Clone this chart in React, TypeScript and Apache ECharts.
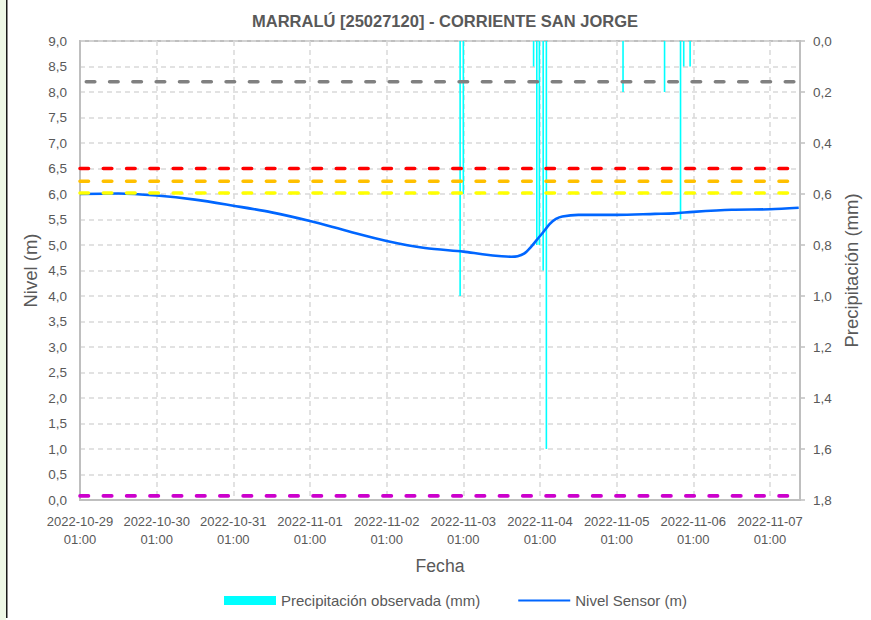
import React, { useEffect, useRef } from 'react';
import * as echarts from 'echarts';

const FONT = '"Liberation Sans", Arial, sans-serif';
const TEXT = '#595959';

// x ticks (one per day, at 01:00), x values are hours since 2022-10-29 01:00
const xTickDates = ['2022-10-29', '2022-10-30', '2022-10-31', '2022-11-01', '2022-11-02', '2022-11-03', '2022-11-04', '2022-11-05', '2022-11-06', '2022-11-07'];
const xTickTime = '01:00';
const xMaxHours = 225.4;

// Nivel Sensor (m)
const levelHours = [0, 12, 24, 36, 48, 60, 72, 84, 96, 108, 120, 126, 132, 135, 137, 139, 141, 143, 145, 147, 149, 151, 156, 168, 180, 186, 192, 204, 216, 225];
const levelValues = [6.0, 6.01, 5.97, 5.89, 5.77, 5.64, 5.47, 5.27, 5.08, 4.94, 4.87, 4.82, 4.78, 4.77, 4.78, 4.83, 4.95, 5.1, 5.25, 5.41, 5.51, 5.56, 5.59, 5.59, 5.61, 5.62, 5.65, 5.69, 5.7, 5.73];

// Precipitación observada (mm)
const precipHours = [119, 120, 142, 143, 143.8, 145, 146, 170, 183, 188, 189, 191];
const precipValues = [1.0, 0.6, 0.1, 0.8, 0.8, 0.9, 1.6, 0.2, 0.2, 0.7, 0.1, 0.1];

// threshold levels (m)
const thresholdValues = [8.2, 6.5, 6.25, 6.02, 0.08];
const thresholdColors = ['#808080', '#FF0000', '#FFC000', '#FFFF00', '#CC00CC'];

const comma = (v: number) => v.toFixed(1).replace('.', ',');

export default function App() {
  const ref = useRef<HTMLDivElement>(null);
  useEffect(() => {
    const chart = echarts.init(ref.current!, null, { renderer: 'svg' });
    const gridDash = { color: '#D9D9D9', width: 1.5, type: [5, 4] as any };
    const thresholdSeries = thresholdValues.map((v, i) => ({
      type: 'line',
      name: 'umbral' + i,
      xAxisIndex: 0,
      yAxisIndex: 0,
      data: [[0, v], [xMaxHours, v]],
      symbol: 'none',
      silent: true,
      z: 5,
      lineStyle: { color: thresholdColors[i], width: 3.6, type: [8.5, 14.8], cap: 'round', dashOffset: i === 0 ? 17 : 0 },
    }));
    chart.setOption({
      animation: false,
      backgroundColor: '#FFFFFF',
      textStyle: { fontFamily: FONT },
      title: {
        text: 'MARRALÚ [25027120] - CORRIENTE SAN JORGE',
        left: 440,
        textAlign: 'center',
        top: 7,
        textStyle: { fontFamily: FONT, fontSize: 16.5, fontWeight: 'bold', color: TEXT },
      },
      grid: { left: 80, right: 71, top: 41, bottom: 120, show: true, borderColor: '#BFBFBF', borderWidth: 2, containLabel: false, outerBoundsMode: 'none' },
      legend: {
        left: 219,
        top: 588,
        itemWidth: 52,
        itemHeight: 9,
        itemGap: 37,
        data: [
          { name: 'Precipitación observada (mm)', icon: 'rect' },
          { name: 'Nivel Sensor (m)', itemStyle: { opacity: 0 } },
        ],
        textStyle: { fontFamily: FONT, fontSize: 15, color: TEXT },
      },
      xAxis: {
        type: 'value',
        min: 0,
        max: xMaxHours,
        interval: 24,
        name: 'Fecha',
        nameLocation: 'middle',
        nameGap: 57,
        nameMoveOverlap: false,
        nameTextStyle: { fontFamily: FONT, fontSize: 17.6, color: TEXT },
        axisLine: { show: true, lineStyle: { color: '#BFBFBF', width: 2 } },
        axisTick: { show: false },
        splitLine: { show: true, lineStyle: gridDash },
        axisLabel: {
          showMinLabel: true,
          showMaxLabel: false,
          hideOverlap: false,
          margin: 13,
          fontFamily: FONT,
          fontSize: 13,
          lineHeight: 17.6,
          color: TEXT,
          formatter: (v: number) => {
            const k = Math.round(v / 24);
            if (Math.abs(v - k * 24) > 0.01 || !xTickDates[k]) return '';
            return xTickDates[k] + '\n' + xTickTime;
          },
        },
      },
      yAxis: [
        {
          type: 'value',
          min: 0,
          max: 9,
          interval: 0.5,
          name: 'Nivel (m)',
          nameLocation: 'middle',
          nameRotate: 90,
          nameGap: 40,
          nameMoveOverlap: false,
          nameTextStyle: { fontFamily: FONT, fontSize: 18.5, color: TEXT },
          axisLine: { show: true, lineStyle: { color: '#BFBFBF', width: 2 } },
          axisTick: { show: false },
          splitLine: { show: true, lineStyle: gridDash },
          axisLabel: { margin: 13, fontFamily: FONT, fontSize: 13.5, color: TEXT, formatter: (v: number) => comma(v) },
        },
        {
          type: 'value',
          min: 0,
          max: 1.8,
          interval: 0.2,
          inverse: true,
          position: 'right',
          name: 'Precipitación (mm)',
          nameLocation: 'middle',
          nameRotate: 90,
          nameGap: 42,
          nameMoveOverlap: false,
          nameTextStyle: { fontFamily: FONT, fontSize: 18.5, color: TEXT },
          axisLine: { show: true, lineStyle: { color: '#BFBFBF', width: 2 } },
          axisTick: { show: true, inside: false, length: 5, lineStyle: { color: '#BFBFBF', width: 1.5 } },
          splitLine: { show: false },
          axisLabel: { margin: 13, fontFamily: FONT, fontSize: 13.5, color: TEXT, formatter: (v: number) => comma(v) },
        },
      ],
      graphic: [
        { type: 'rect', shape: { x: 0, y: 0, width: 6, height: 620 }, style: { fill: '#EEF8E6' }, silent: true },
        { type: 'rect', shape: { x: 6, y: 0, width: 1.5, height: 618 }, style: { fill: '#1A1A1A' }, silent: true },
      ],
      series: [
        {
          type: 'bar',
          name: 'Precipitación observada (mm)',
          xAxisIndex: 0,
          yAxisIndex: 1,
          barWidth: 1.6,
          itemStyle: { color: '#00FFFF' },
          z: 2,
          data: precipHours.map((h, i) => [h, precipValues[i]]),
        },
        {
          type: 'line',
          name: 'Nivel Sensor (m)',
          xAxisIndex: 0,
          yAxisIndex: 0,
          symbol: 'none',
          showSymbol: false,
          smooth: 0.3,
          z: 4,
          lineStyle: { color: '#0066FF', width: 2.6 },
          itemStyle: { color: '#0066FF' },
          data: levelHours.map((h, i) => [h, levelValues[i]]),
        },
        ...thresholdSeries,
      ],
    });
    return () => chart.dispose();
  }, []);
  return <div ref={ref} style={{ position: 'fixed', left: 0, top: 0, width: 871, height: 620, background: '#fff' }} />;
}
